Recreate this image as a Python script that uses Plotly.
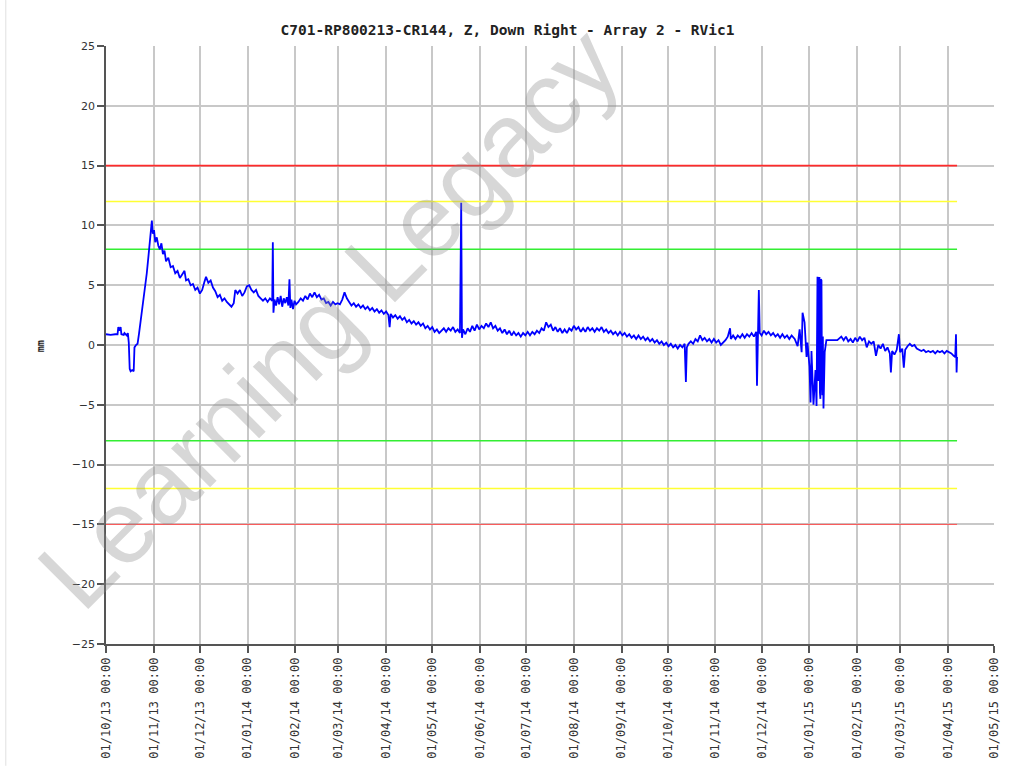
import pandas as pd
import plotly.graph_objects as go

# --- Monitoring point readings (days after 01/10/2013, displacement in mm) ---
day_offset = [
    0, 3, 6, 7.5, 8, 8.8, 9.5, 10, 11.5, 12, 13.5, 14.2, 14.8, 15.4, 16, 17, 18, 18.5,
    19.5, 20.5, 21.5, 22.5, 23.5, 24.5, 25.5, 26.5, 27.5, 28.5, 29.2, 29.8, 30.4, 31.2,
    32, 33, 34, 35, 36, 37, 38, 39, 40.5, 42, 43.5, 45, 46.5, 48, 49.5, 51, 52, 53.5,
    55, 56.5, 58, 59.5, 61, 62.5, 64, 65, 66.5, 68, 69.5, 71, 72.5, 74, 75.5, 77, 78.5,
    80, 81.5, 83, 84, 85.5, 87, 88.5, 90, 91.5, 93, 94.5, 96, 97.5, 99, 100.5, 102,
    103.5, 105, 106.5, 108, 108.4, 108.8, 109.5, 110.5, 111.5, 112.5, 113.5, 114.5,
    115.5, 116.5, 117.5, 118.5, 119.2, 119.8, 120.5, 121.5, 122.5, 123.5, 125, 126.5,
    128, 129.5, 131, 132.5, 134, 135.5, 137, 138.5, 140, 141.5, 143, 144.5, 146, 147.5,
    149, 150.5, 152, 153.5, 155, 156.5, 158, 159.5, 161, 162.5, 164, 165.5, 167, 168.5,
    170, 171.5, 173, 174.5, 176, 177.5, 179, 180.5, 182, 183.5, 184.3, 185, 186.5, 188,
    189.5, 191, 192.5, 194, 195.5, 197, 198.5, 200, 201.5, 203, 204.5, 206, 207.5, 209,
    210.5, 212, 213.5, 215, 216.5, 218, 219.5, 221, 222.5, 224, 225.5, 227, 228.5, 230,
    230.8, 231.3, 232, 233.5, 235, 236.5, 238, 239.5, 241, 242.5, 244, 245.5, 247, 248.5,
    250, 251.5, 253, 254.5, 256, 257.5, 259, 260.5, 262, 263.5, 265, 266.5, 268, 269.5,
    271, 272.5, 274, 275.5, 277, 278.5, 280, 281.5, 283, 284.5, 286, 287.5, 289, 290.5,
    292, 293.5, 295, 296.5, 298, 299.5, 301, 302.5, 304, 305.5, 307, 308.5, 310, 311.5,
    313, 314.5, 316, 317.5, 319, 320.5, 322, 323.5, 325, 326.5, 328, 329.5, 331, 332.5,
    334, 335.5, 337, 338.5, 340, 341.5, 343, 344.5, 346, 347.5, 349, 350.5, 352, 353.5,
    355, 356.5, 358, 359.5, 361, 362.5, 364, 365.5, 367, 368.5, 370, 371.5, 373, 374.5,
    376, 376.8, 377.4, 378.5, 380, 381.5, 383, 384.5, 386, 387.5, 389, 390.5, 392, 393.5,
    395, 396.5, 398, 399.5, 401, 402.5, 404, 405.5, 406, 407.5, 409, 410.5, 412, 413.5,
    415, 416.5, 418, 419.5, 421, 422.5, 423, 423.5, 424.2, 424.8, 426, 427.5, 429, 430.5,
    432, 433.5, 435, 436.5, 438, 439.5, 441, 442.5, 444, 445.5, 447.5, 449.4, 450.7, 452,
    452.6, 453.9, 455.2, 455.8, 457.1, 457.8, 458.4, 459.7, 461, 461.7, 462.3, 462.6, 463,
    463.3, 463.6, 463.9, 464.2, 464.5, 464.9, 465.2, 465.5, 465.8, 466.2, 467, 468.1,
    475.2, 477.8, 479.3, 480.8, 482.3,
    483.8, 485.3, 486.8, 488.3, 489.8, 491.3, 492.8, 494.3, 495.8, 497.3, 498.8, 500.3,
    501.8, 503.3, 504.8, 506.3, 507.8, 509.3, 510, 510.8, 512.3, 513.8, 515.2, 516, 517.4,
    518.4, 519.3, 520.8, 522.3, 523.8, 525.3, 526.8, 528.3, 529.8, 531.3, 532.8, 534.3,
    535.8, 537.3, 538.8, 540.3, 541.8, 543.3, 544.8, 546.3, 547.8, 549.3, 550.8, 551.8,
    552.3, 552.7, 553.0,
]

displacement_mm = [
    0.9, 0.85, 0.9, 0.9, 1.5, 1.2, 1.5, 0.9, 0.85, 1.0, 0.8, 1.0, 0.2, -2.0, -2.2, -2.1, -2.2, -0.2,
    0.0, 0.1, 1.0, 2.0, 3.0, 3.8, 5.0, 6.0, 7.3, 8.5, 9.1, 10.4, 9.3, 9.6,
    8.6, 9.0, 8.3, 8.0, 8.5, 7.6, 7.9, 7.0, 7.3, 6.5, 6.6, 6.0, 6.2, 5.6, 5.9, 6.2, 5.4, 5.5,
    5.0, 5.1, 4.6, 4.8, 4.3, 4.6, 5.3, 5.7, 5.2, 5.4, 4.8, 4.5, 4.0, 4.2, 3.7, 3.9, 3.6,
    3.4, 3.2, 3.5, 4.6, 4.3, 4.6, 4.1, 4.4, 4.9, 5.0, 4.6, 4.4, 4.6, 4.1, 3.9, 3.7,
    3.9, 3.6, 3.9, 3.7, 8.6, 2.7, 3.8, 3.3, 4.0, 3.4, 4.1, 3.2,
    3.9, 3.5, 4.0, 3.3, 5.5, 3.1, 3.8, 3.0, 3.7, 3.4, 3.6, 3.9,
    3.7, 4.1, 3.8, 4.3, 4.0, 4.4, 4.0, 4.2, 3.8, 3.9, 3.5, 3.6, 3.3, 3.6,
    3.4, 3.5, 3.4, 3.8, 4.4, 3.9, 3.6, 3.3, 3.5, 3.2, 3.4, 3.1, 3.3, 3.0,
    3.2, 2.9, 3.1, 2.8, 3.0, 2.7, 2.9, 2.6, 2.8, 2.5, 1.5, 2.6, 2.3, 2.5,
    2.2, 2.4, 2.1, 2.3, 1.9, 2.1, 1.8, 2.0, 1.7, 1.9, 1.6, 1.8, 1.4, 1.6,
    1.3, 1.5, 1.1, 1.3, 1.0, 1.2, 1.4, 1.1, 1.4, 1.2, 1.5, 1.1, 1.3, 1.0,
    11.9, 0.6, 1.3, 0.9, 1.4, 1.1, 1.6, 1.2, 1.7, 1.3, 1.6, 1.4, 1.8, 1.5,
    1.9, 1.4, 1.6, 1.2, 1.4, 1.0, 1.3, 0.9, 1.2, 0.8, 1.1, 0.8, 1.0, 0.7,
    1.0, 0.8, 1.1, 0.8, 1.1, 0.9, 1.2, 1.0, 1.4, 1.2, 1.9, 1.5, 1.7, 1.2,
    1.5, 1.1, 1.4, 1.0, 1.3, 1.0, 1.4, 1.2, 1.6, 1.3, 1.5, 1.1, 1.4, 1.1,
    1.5, 1.2, 1.4, 1.1, 1.4, 1.2, 1.5, 1.1, 1.3, 1.0, 1.2, 0.9, 1.1, 0.8,
    1.1, 0.8, 1.0, 0.7, 0.9, 0.6, 0.8, 0.5, 0.8, 0.5, 0.7, 0.4, 0.6, 0.3,
    0.5, 0.2, 0.4, 0.1, 0.3, 0.0, 0.2, -0.1, 0.1, -0.2, 0.0, -0.3, 0.0, -0.2,
    0.1, -3.1, -0.2, 0.1, 0.3, 0.1, 0.5, 0.3, 0.8, 0.4, 0.6, 0.3, 0.5, 0.2,
    0.5, 0.2, 0.4, 0.0, 0.2, 0.4, 0.7, 1.4, 0.5, 0.8, 0.5, 0.8, 0.6, 0.9,
    0.6, 0.9, 0.7, 1.0, 0.7, 1.1, -3.4, 0.0, 4.6, 1.0, 0.8, 1.2, 0.9, 1.1,
    0.8, 1.0, 0.7, 0.9, 0.6, 0.9, 0.6, 0.8, 0.5, 0.8, 0.5, -0.1, 1.3, -0.6,
    2.7, 1.9, -1.0, 0.2, -1.8, -4.8, -0.5, -5.0, -2.1, -5.1, 5.7, -1.5, -3.0,
    5.6, 5.6, -4.0, -4.5, 5.5, 5.4, -2.9, -4.2, 0.7, -5.3, -0.6, 0.4,
    0.4, 0.7, 0.4, 0.7, 0.3,
    0.5, 0.2, 0.6, 0.3, 0.7, 0.4, 0.6, -0.2, 0.3, 0.1, 0.3, -0.9,
    0.0, -0.3, 0.1, -0.5, -0.2, -0.7, -2.3, -0.5, -0.8, -0.4, 0.9, -0.6, -0.3,
    -1.9, -0.4, -0.1, 0.1, -0.1, 0.0, -0.3, -0.4, -0.5, -0.4, -0.6, -0.5,
    -0.6, -0.5, -0.7, -0.5, -0.6, -0.5, -0.7, -0.5, -0.6, -0.7, -0.9, -1.0,
    0.9, -2.3, -1.0,
]

# Alarm / alert / trigger levels (mm)
limit_levels = [15, 12, 8, -8, -12, -15]
limit_colors = ["#ff2a2a", "#ffff33", "#33ee33", "#33ee33", "#ffff33", "#ff5050"]
limit_widths = [1.6, 1.6, 1.6, 1.6, 1.6, 1.0]

title_text = "C701-RP800213-CR144, Z, Down Right - Array 2 - RVic1"
y_ticks = [25, 20, 15, 10, 5, 0, -5, -10, -15, -20, -25]
x_tick_dates = pd.date_range("2013-10-01", "2015-05-01", freq="MS")

origin = pd.Timestamp("2013-10-01")
reading_time = origin + pd.to_timedelta(day_offset, unit="D")
last_reading = reading_time[-1]

fig = go.Figure()

for level, colour, lw in zip(limit_levels, limit_colors, limit_widths):
    fig.add_trace(go.Scatter(
        x=[origin, last_reading], y=[level, level], mode="lines",
        line=dict(color=colour, width=lw), hoverinfo="skip", showlegend=False,
    ))

fig.add_trace(go.Scatter(
    x=reading_time, y=displacement_mm, mode="lines",
    line=dict(color="#0000ff", width=1.8), showlegend=False, name="Z",
))

fig.update_layout(
    width=1009, height=767,
    margin=dict(l=106, r=8, t=46, b=122),
    paper_bgcolor="white", plot_bgcolor="white",
    title=dict(
        text=title_text, x=0.503, xref="container", xanchor="center",
        y=1 - 30 / 767, yref="container", yanchor="middle",
        font=dict(family="DejaVu Sans Mono", size=14.5, color="#222222", weight="bold"),
    ),
    font=dict(family="DejaVu Sans", color="#333333"),
)

fig.update_xaxes(
    type="date",
    range=[x_tick_dates[0], x_tick_dates[-1]],
    tickmode="array", tickvals=x_tick_dates,
    ticktext=[d.strftime("%d/%m/%y %H:%M") for d in x_tick_dates],
    tickangle=-90,
    tickfont=dict(family="DejaVu Sans Mono", size=12, color="#333333"),
    showgrid=True, gridcolor="#c8c8c8", gridwidth=1.6,
    showline=True, linecolor="#555555", linewidth=1.6,
    ticks="outside", ticklen=7, tickcolor="#555555", tickwidth=1.5,
    zeroline=False,
)

fig.update_yaxes(
    range=[-25, 25], tickmode="array", tickvals=y_ticks,
    tickfont=dict(family="DejaVu Sans", size=11, color="#333333"),
    showgrid=True, gridcolor="#c8c8c8", gridwidth=1.6,
    showline=True, linecolor="#555555", linewidth=1.6,
    ticks="outside", ticklen=7, tickcolor="#555555", tickwidth=1.5,
    zeroline=False,
)

# Axis unit label
fig.add_annotation(
    text="mm", xref="paper", yref="paper", x=-0.082, y=0.4975,
    textangle=-90, showarrow=False,
    font=dict(family="DejaVu Sans Mono", size=10, color="#222222", weight="bold"),
)

# Document watermark
fig.add_annotation(
    text="Learning Legacy", xref="paper", yref="paper",
    x=(330 - 106) / 895, y=(645 - 318) / 599,
    xanchor="center", yanchor="middle",
    textangle=-45, showarrow=False,
    font=dict(family="Liberation Sans", size=104, color="rgba(140,140,140,0.35)"),
)

# Faint frame edge on the left of the page
fig.add_shape(
    type="line", xref="paper", yref="paper",
    x0=(5 - 106) / 895, x1=(5 - 106) / 895, y0=-122 / 599, y1=(645 - 0) / 599,
    line=dict(color="#e0e0e0", width=1),
)

fig.write_html("out.html")
